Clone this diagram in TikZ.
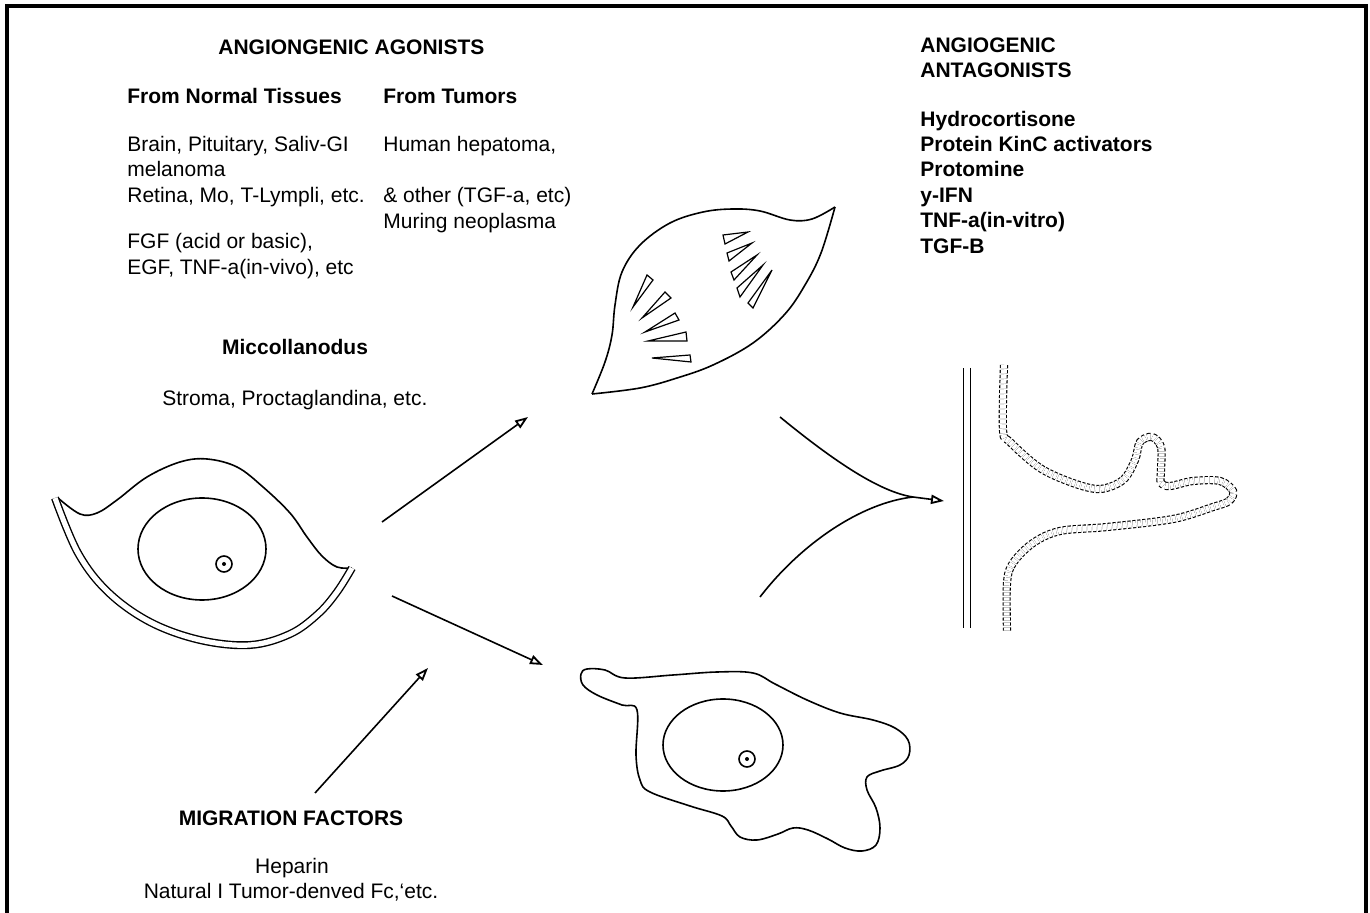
\documentclass[tikz,border=0pt]{standalone}
\usepackage{fontspec}
\setmainfont{Liberation Sans}
\usetikzlibrary{arrows.meta}

\tikzset{
  txt/.style={anchor=base west,inner sep=0pt,font=\fontsize{10.5}{12.75}\selectfont},
  bold/.style={txt,font=\fontsize{10.5}{12.75}\selectfont\bfseries},
  outline/.style={line width=0.8pt,line join=round},
  membrane/.style={double,double distance=2.6pt,line width=0.7pt},
  vessel/.style={double,double distance=3pt,line width=0.55pt,dash pattern=on 1.6pt off 0.9pt},
  arr/.style={line width=0.8pt,-{Triangle[open,length=6.5pt,width=4.6pt,line width=0.9pt]}},
  wedge/.style={line width=0.6pt,line join=miter},
}

\begin{document}
\begin{tikzpicture}[x=0.5pt,y=-0.5pt]
\useasboundingbox (0,0) rectangle (1370,913);
\draw[line width=1.6pt] (7,913) -- (7,6) -- (1366,6) -- (1366,913);

% agonists
\node[bold] (agon) at (218,55) {ANGIONGENIC AGONISTS};
\node[bold] (normal) at (127,104) {From Normal Tissues};
\node[bold] (tumors) at (383,104) {From Tumors};
\node[txt] (n1) at (127,152) {Brain, Pituitary, Saliv-GI};
\node[txt] (n2) at (127,177) {melanoma};
\node[txt] (n3) at (127,203) {Retina, Mo, T-Lympli, etc.};
\node[txt] (n4) at (127,249) {FGF (acid or basic),};
\node[txt] (n5) at (127,275) {EGF, TNF-a(in-vivo), etc};
\node[txt] (t1) at (383,152) {Human hepatoma,};
\node[txt] (t2) at (383,203) {\& other (TGF-a, etc)};
\node[txt] (t3) at (383,229) {Muring neoplasma};
\node[bold,anchor=base] (misc) at (295,355) {Miccollanodus};
\node[txt] (stroma) at (162,406) {Stroma, Proctaglandina, etc.};

% antagonists
\node[bold] (ant1) at (920,53) {ANGIOGENIC};
\node[bold] (ant2) at (920,78) {ANTAGONISTS};
\node[bold] (a1) at (920,127) {Hydrocortisone};
\node[bold] (a2) at (920,152) {Protein KinC activators};
\node[bold] (a3) at (920,177) {Protomine};
\node[bold] (a4) at (920,203) {y-IFN};
\node[bold] (a5) at (920,228) {TNF-a(in-vitro)};
\node[bold] (a6) at (920,254) {TGF-B};

% migration
\node[bold,anchor=base] (migr) at (291,825) {MIGRATION FACTORS};
\node[txt,anchor=base] (hep) at (292,873) {Heparin};
\node[txt,anchor=base] (nat) at (291,898) {Natural I Tumor-denved Fc,`etc.};

% resting cell
\draw[outline] plot[smooth,tension=0.6] coordinates {(58,498) (80,514) (97,513) (117,500) (147,477) (180,462) (207,459) (237,467) (263,487) (290,513) (307,537) (322,556) (337,567) (352,568)};
\draw[membrane] plot[smooth,tension=0.6] coordinates {(352,568) (337,592) (318,614) (290,634) (250,645) (200,640) (150,622) (108,592) (78,553) (55,498)};
\draw[outline] (202,549) ellipse [x radius=64,y radius=51];
\draw[outline] (224,564) circle [radius=8];
\fill (224,564) circle [radius=2];

% dividing cell
\draw[outline] plot[smooth,tension=0.6] coordinates {(835,207) (812,219) (790,220) (760,211) (733,209) (703,212) (670,223) (640,245) (622,272) (615,305) (612,335) (605,362) (592,394)};
\draw[outline] plot[smooth,tension=0.6] coordinates {(592,394) (640,388) (677,378) (713,365) (753,343) (785,314) (805,285) (821,253) (835,207)};
\draw[wedge] (723,235) -- (748,232) -- (725,244) -- cycle;
\draw[wedge] (727,253) -- (752,243) -- (729,261) -- cycle;
\draw[wedge] (731,272) -- (757,255) -- (734,280) -- cycle;
\draw[wedge] (737,288) -- (763,265) -- (740,297) -- cycle;
\draw[wedge] (748,303) -- (772,270) -- (753,308) -- cycle;
\draw[wedge] (647,275) -- (633,307) -- (653,280) -- cycle;
\draw[wedge] (665,292) -- (642,318) -- (671,298) -- cycle;
\draw[wedge] (675,313) -- (645,332) -- (679,320) -- cycle;
\draw[wedge] (686,332) -- (648,341) -- (687,341) -- cycle;
\draw[wedge] (690,355) -- (652,358) -- (691,362) -- cycle;

% migrating cell
\draw[outline] plot[smooth cycle,tension=0.6] coordinates {(587,669) (605,670) (625,678) (673,675) (717,672) (753,673) (775,684) (807,700) (840,713) (873,720) (895,728) (908,740) (909,755) (900,765) (880,771) (867,777) (867,790) (876,808) (880,828) (876,845) (862,851) (845,848) (828,839) (808,830) (793,828) (778,834) (757,840) (740,837) (731,826) (722,816) (690,806) (650,792) (640,780) (636,755) (637,710) (622,705) (597,695) (583,685) (581,674)};
\draw[outline] (723,745) ellipse [x radius=60,y radius=46];
\draw[outline] (747,759) circle [radius=8];
\fill (747,759) circle [radius=2];

% vessel wall and sprout
\draw[membrane,double distance=2.8pt] (967,368) -- (967,628);
\draw[vessel] plot[smooth,tension=0.55] coordinates {(1004,365) (1003,430) (1010,442) (1040,468) (1073,483) (1100,489) (1123,480) (1135,460) (1140,442) (1152,437) (1161,447) (1161,470) (1161,483) (1170,486) (1193,481) (1220,481) (1233,491) (1229,501) (1213,507) (1173,519) (1107,527) (1060,531) (1033,543) (1013,563) (1007,583) (1007,632)};

% arrows
\coordinate (up0) at (382,522);
\coordinate (up1) at (528,417);
\coordinate (dn0) at (392,596);
\coordinate (dn1) at (543,665);
\coordinate (mg0) at (315,793);
\coordinate (mg1) at (428,668);
\coordinate (cv1) at (780,417);
\coordinate (cv2) at (760,597);
\coordinate (cvm) at (913,497);
\coordinate (cvt) at (944,501);
\draw[arr] (up0) -- (up1);
\draw[arr] (dn0) -- (dn1);
\draw[arr] (mg0) -- (mg1);
\draw[outline] (cv1) .. controls (835,462) and (880,492) .. (cvm);
\draw[outline] (cv2) .. controls (800,545) and (860,503) .. (cvm);
\draw[arr] (cvm) -- (cvt);
\end{tikzpicture}
\end{document}
